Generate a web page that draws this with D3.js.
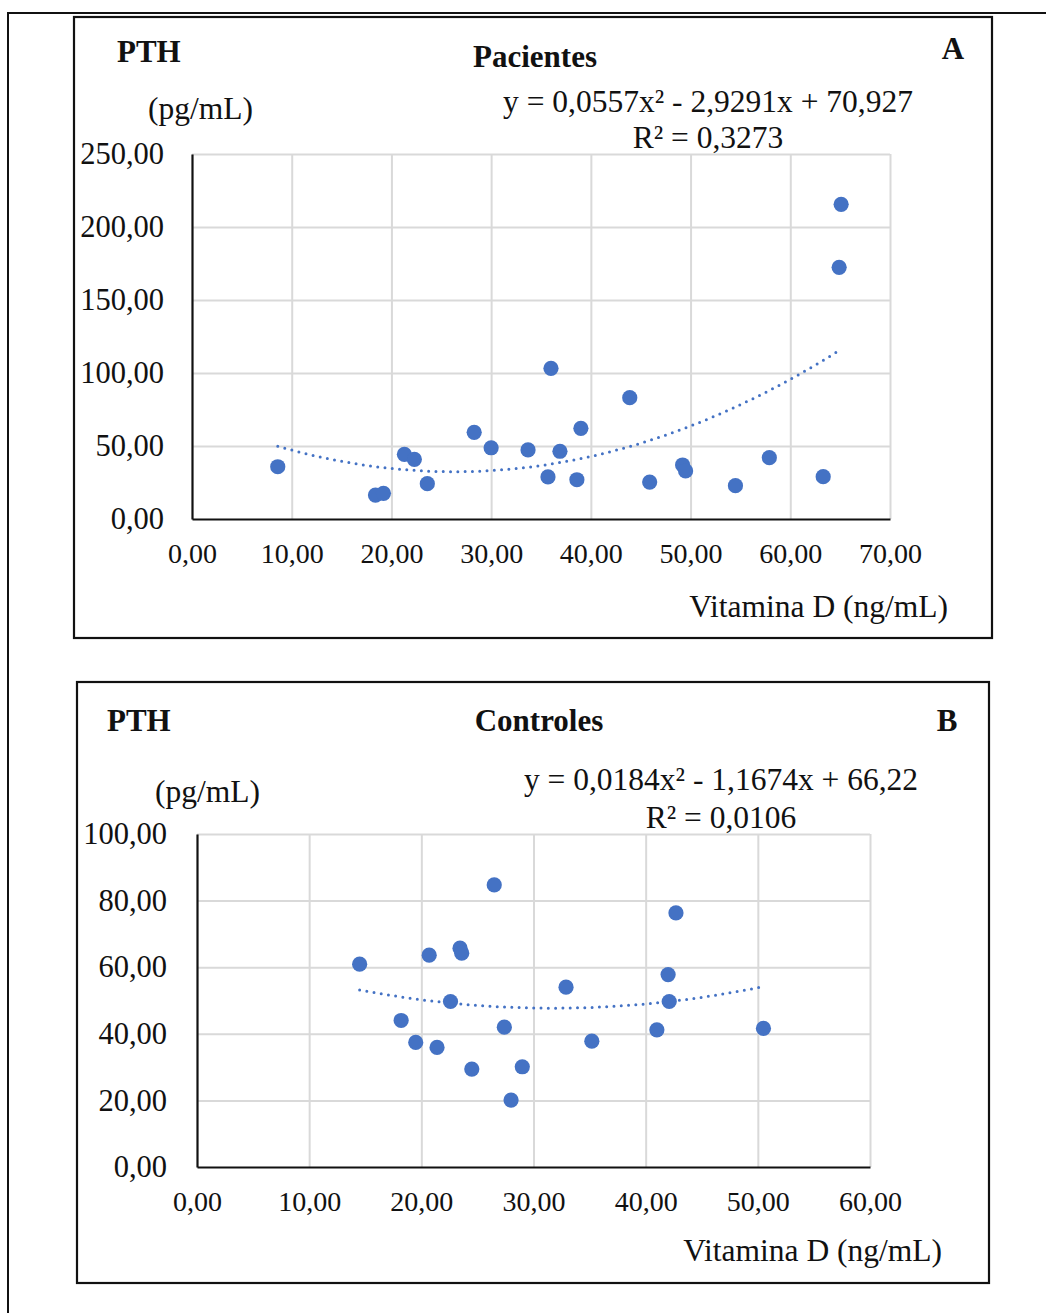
<!DOCTYPE html>
<html>
<head>
<meta charset="utf-8">
<script src="https://cdn.jsdelivr.net/npm/d3@7"></script>
<style>
  html, body { margin: 0; padding: 0; background: #fff; }
  svg { display: block; }
  text { font-family: "Liberation Serif", "Times New Roman", serif; fill: #111; }
</style>
</head>
<body>
<svg id="fig" width="1046" height="1313"></svg>
<script>
// Panel A – Pacientes: vitamin D (ng/mL) vs PTH (pg/mL)
const vitDPacientes = [8.6, 18.4, 19.2, 21.3, 22.3, 23.6, 28.3, 30.0, 33.7, 35.7, 36.0, 36.9,
                       38.6, 39.0, 43.9, 45.9, 49.2, 49.5, 54.5, 57.9, 63.3, 64.9, 65.1];
const pthPacientes  = [35.8, 16.4, 17.6, 44.3, 40.9, 24.2, 59.4, 48.8, 47.3, 28.8, 103.2, 46.4,
                       26.9, 62.1, 83.1, 25.3, 37.0, 32.9, 22.8, 42.0, 29.0, 172.4, 215.5];
const xTicksPacientes = [0, 10, 20, 30, 40, 50, 60, 70];
const yTicksPacientes = [0, 50, 100, 150, 200, 250];
const coefPacientes = [0.0557, -2.9291, 70.927];   // a·x² + b·x + c
const r2Pacientes = 0.3273;

// Panel B – Controles
const vitDControles = [14.5, 20.7, 23.45, 23.6, 26.5, 42.7, 42.0, 32.9, 22.6, 42.1, 18.2, 27.4,
                       41.0, 50.5, 19.5, 21.4, 35.2, 24.5, 29.0, 28.0];
const pthControles  = [60.9, 63.6, 65.7, 64.2, 84.7, 76.3, 57.8, 54.0, 49.7, 49.7, 44.0, 42.0,
                       41.2, 41.6, 37.4, 35.9, 37.8, 29.4, 30.1, 20.1];
const xTicksControles = [0, 10, 20, 30, 40, 50, 60];
const yTicksControles = [0, 20, 40, 60, 80, 100];
const coefControles = [0.0184, -1.1674, 66.22];
const r2Controles = 0.0106;

const BLUE = "#4472C4";
const GRID = "#d9d9d9";
const svg = d3.select("#fig");

const comma = v => String(v).replace(".", ",");
const tickFmt = v => d3.format(".2f")(v).replace(".", ",");

// outer figure frame (left and top rules)
svg.append("path")
  .attr("d", "M8,1313 V13 H1046")
  .attr("fill", "none").attr("stroke", "#111").attr("stroke-width", 2);

function drawPanel(p) {
  const g = svg.append("g");

  // panel box
  g.append("rect")
    .attr("x", p.box[0]).attr("y", p.box[1])
    .attr("width", p.box[2] - p.box[0]).attr("height", p.box[3] - p.box[1])
    .attr("fill", "#fff").attr("stroke", "#111").attr("stroke-width", 2.2);

  const x = d3.scaleLinear().domain(d3.extent(p.xTicks)).range([p.plot.left, p.plot.right]);
  const y = d3.scaleLinear().domain(d3.extent(p.yTicks)).range([p.plot.bottom, p.plot.top]);

  // gridlines
  g.append("g")
    .attr("transform", `translate(0,${p.plot.bottom})`)
    .call(d3.axisBottom(x).tickValues(p.xTicks.slice(1)).tickSize(-(p.plot.bottom - p.plot.top)).tickFormat(""))
    .call(a => a.select(".domain").remove())
    .call(a => a.selectAll("line").attr("stroke", GRID).attr("stroke-width", 2));
  g.append("g")
    .attr("transform", `translate(${p.plot.left},0)`)
    .call(d3.axisLeft(y).tickValues(p.yTicks.slice(1)).tickSize(-(p.plot.right - p.plot.left)).tickFormat(""))
    .call(a => a.select(".domain").remove())
    .call(a => a.selectAll("line").attr("stroke", GRID).attr("stroke-width", 2));

  // polynomial trendline over the data's x range
  const [a2, b1, c0] = p.coef;
  const [xmin, xmax] = d3.extent(p.xs);
  const trend = d3.range(0, 101).map(i => {
    const xv = xmin + (xmax - xmin) * i / 100;
    return [xv, a2 * xv * xv + b1 * xv + c0];
  });
  g.append("path")
    .datum(trend)
    .attr("d", d3.line().x(d => x(d[0])).y(d => y(d[1])))
    .attr("fill", "none").attr("stroke", BLUE).attr("stroke-width", 3)
    .attr("stroke-linecap", "round").attr("stroke-dasharray", "0 7.3");

  // data points
  g.append("g").selectAll("circle")
    .data(p.xs.map((v, i) => [v, p.ys[i]]))
    .join("circle")
    .attr("cx", d => x(d[0])).attr("cy", d => y(d[1]))
    .attr("r", 7.6).attr("fill", BLUE);

  // axes
  g.append("g")
    .attr("transform", `translate(0,${p.plot.bottom})`)
    .call(d3.axisBottom(x).tickValues(p.xTicks).tickFormat(tickFmt).tickSize(0).tickPadding(24))
    .call(a => a.select(".domain").attr("stroke", "#111").attr("stroke-width", 2.2))
    .call(a => a.selectAll("text").attr("font-size", 28).attr("font-family", null).attr("fill", "#111"));
  g.append("g")
    .attr("transform", `translate(${p.plot.left},0)`)
    .call(d3.axisLeft(y).tickValues(p.yTicks).tickFormat(tickFmt).tickSize(0).tickPadding(p.yPad))
    .call(a => a.select(".domain").attr("stroke", "#111").attr("stroke-width", 2.2))
    .call(a => a.selectAll("text").attr("font-size", 30.5).attr("font-family", null).attr("fill", "#111"));

  // labels
  const txt = (s, tx, ty, size, anchor, bold) => g.append("text")
    .attr("x", tx).attr("y", ty).attr("font-size", size)
    .attr("text-anchor", anchor).attr("font-weight", bold ? "bold" : "normal").text(s);

  txt("PTH", p.pth[0], p.pth[1], 31, "start", true);
  txt("(pg/mL)", p.unit[0], p.unit[1], 31.5, "start", false);
  txt(p.title, p.titlePos[0], p.titlePos[1], 31, "middle", true);
  txt(p.letter, p.letterPos[0], p.letterPos[1], 31, "middle", true);
  const eq = `y = ${comma(a2)}x² - ${comma(Math.abs(b1))}x + ${comma(c0)}`;
  txt(eq, p.eq[0], p.eq[1], 31.5, "middle", false);
  txt(`R² = ${comma(p.r2)}`, p.eq[0], p.eq[2], 31.5, "middle", false);
  txt("Vitamina D (ng/mL)", p.xlab[0], p.xlab[1], 31.5, "end", false);
}

drawPanel({
  box: [74, 17, 992, 638],
  plot: { left: 192, right: 890, top: 154, bottom: 519 },
  xTicks: xTicksPacientes, yTicks: yTicksPacientes,
  xs: vitDPacientes, ys: pthPacientes,
  coef: coefPacientes, r2: r2Pacientes,
  yPad: 28,
  pth: [117, 62], unit: [148, 119],
  title: "Pacientes", titlePos: [535, 67],
  letter: "A", letterPos: [953, 59],
  eq: [708, 112, 148],
  xlab: [948, 617]
});

drawPanel({
  box: [77, 682, 989, 1283],
  plot: { left: 197, right: 870, top: 834, bottom: 1167 },
  xTicks: xTicksControles, yTicks: yTicksControles,
  xs: vitDControles, ys: pthControles,
  coef: coefControles, r2: r2Controles,
  yPad: 30,
  pth: [107, 731], unit: [155, 802],
  title: "Controles", titlePos: [539, 731],
  letter: "B", letterPos: [947, 731],
  eq: [721, 790, 828],
  xlab: [942, 1261]
});
</script>
</body>
</html>
